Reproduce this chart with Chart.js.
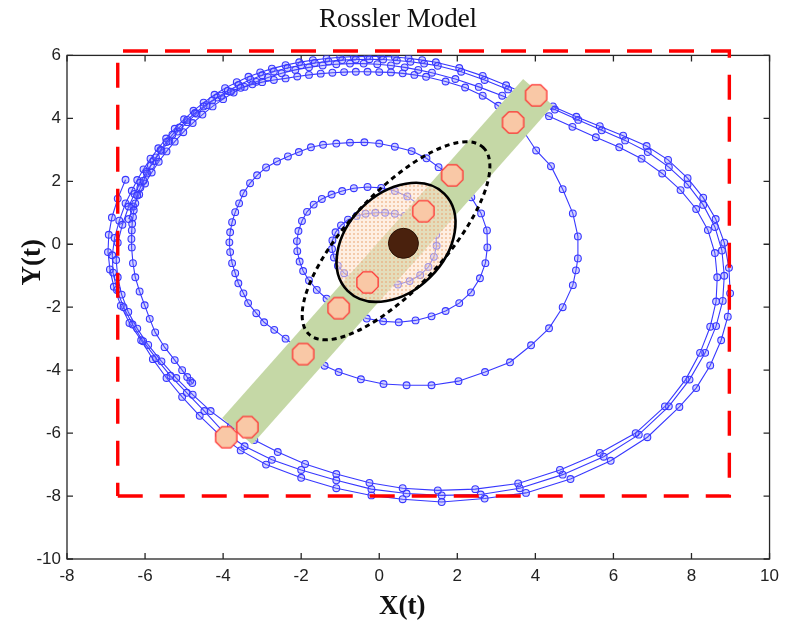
<!DOCTYPE html>
<html>
<head>
<meta charset="utf-8">
<title>Rossler Model</title>
<script src="https://cdn.jsdelivr.net/npm/chart.js@4.4.1/dist/chart.umd.min.js"></script>
<style>
  html, body { margin: 0; padding: 0; background: #fff; }
  canvas { display: block; }
</style>
</head>
<body>
<canvas id="rossler" width="786" height="623"></canvas>
<script>
// Axes
const xTickValues = [-8, -6, -4, -2, 0, 2, 4, 6, 8, 10];
const yTickValues = [-10, -8, -6, -4, -2, 0, 2, 4, 6];

// Trajectoire centrale : spirale qui s'ouvre puis se termine en bas a gauche
const innerSpiral = [
  [0.9, 0.75], [0.65, 0.9], [0.4, 0.97], [0.15, 1.0], [-0.1, 1.0], [-0.35, 0.97], [-0.58, 0.9],
  [-0.8, 0.78], [-0.98, 0.6], [-1.12, 0.38], [-1.2, 0.12], [-1.21, -0.15], [-1.16, -0.42],
  [-1.06, -0.68], [-0.9, -0.92], [-0.68, -1.12], [-0.42, -1.25], [-0.12, -1.32], [0.18, -1.33],
  [0.48, -1.28], [0.78, -1.17], [1.05, -0.98], [1.26, -0.72], [1.4, -0.4], [1.47, -0.05],
  [1.46, 0.3], [1.38, 0.65], [1.22, 0.98], [1.0, 1.27], [0.72, 1.52], [0.4, 1.69], [0.05, 1.79],
  [-0.3, 1.82], [-0.65, 1.78], [-0.95, 1.69], [-1.22, 1.58], [-1.47, 1.44], [-1.68, 1.26],
  [-1.85, 1.03], [-1.98, 0.74], [-2.07, 0.42], [-2.11, 0.1], [-2.1, -0.22], [-2.04, -0.55],
  [-1.95, -0.85], [-1.8, -1.15], [-1.6, -1.45], [-1.35, -1.73], [-1.05, -1.98], [-0.7, -2.2],
  [-0.32, -2.36], [0.1, -2.45], [0.5, -2.48], [0.93, -2.42], [1.34, -2.29], [1.7, -2.12],
  [2.05, -1.87], [2.35, -1.53], [2.58, -1.08], [2.72, -0.6], [2.77, -0.1], [2.76, 0.44],
  [2.61, 0.98], [2.36, 1.49], [2.1, 1.9], [1.85, 2.2], [1.52, 2.45], [1.21, 2.73], [0.83, 2.96],
  [0.4, 3.1], [0.0, 3.2], [-0.38, 3.24], [-0.75, 3.23], [-1.1, 3.2], [-1.44, 3.16], [-1.75, 3.08],
  [-2.06, 2.93], [-2.34, 2.79], [-2.62, 2.63], [-2.9, 2.44], [-3.13, 2.19], [-3.31, 1.94],
  [-3.48, 1.62], [-3.59, 1.3], [-3.69, 1.02], [-3.77, 0.7], [-3.82, 0.38], [-3.84, 0.06],
  [-3.82, -0.25], [-3.77, -0.6], [-3.69, -0.92], [-3.61, -1.24], [-3.48, -1.56], [-3.36, -1.87],
  [-3.15, -2.19], [-2.95, -2.48], [-2.69, -2.72], [-2.4, -3.0], [-2.05, -3.32], [-1.7, -3.62],
  [-1.4, -3.86], [-1.04, -4.06], [-0.47, -4.29], [0.11, -4.44], [0.7, -4.48], [1.34, -4.48],
  [2.03, -4.35], [2.71, -4.06], [3.35, -3.75], [3.89, -3.21], [4.35, -2.67], [4.7, -2.0],
  [4.96, -1.3], [5.04, -0.83], [5.09, -0.45], [5.09, 0.25], [4.96, 0.98], [4.7, 1.75],
  [4.4, 2.48], [4.02, 2.98], [3.68, 3.62], [3.4, 4.02], [3.05, 4.4], [2.65, 4.72], [2.2, 4.98],
  [1.7, 5.17], [1.2, 5.32], [0.9, 5.38], [0.6, 5.43], [0.3, 5.46], [0.0, 5.47], [-0.3, 5.48],
  [-0.6, 5.48], [-0.9, 5.47], [-1.2, 5.45], [-1.5, 5.42], [-1.8, 5.38], [-2.1, 5.33],
  [-2.4, 5.27], [-2.7, 5.22], [-3.0, 5.15], [-3.25, 5.08], [-3.55, 4.97], [-3.8, 4.85],
  [-4.05, 4.72], [-4.28, 4.57], [-4.5, 4.38], [-4.72, 4.17], [-4.92, 3.95], [-5.12, 3.71],
  [-5.3, 3.48], [-5.45, 3.25], [-5.6, 3.0], [-5.72, 2.76], [-5.85, 2.5], [-5.95, 2.25],
  [-6.04, 2.02], [-6.12, 1.8], [-6.2, 1.55], [-6.25, 1.3], [-6.29, 1.08], [-6.31, 0.86],
  [-6.33, 0.65], [-6.34, 0.44], [-6.35, 0.17], [-6.34, -0.1], [-6.31, -0.6], [-6.25, -1.05],
  [-6.14, -1.5], [-6.01, -1.94], [-5.88, -2.37], [-5.74, -2.8], [-5.5, -3.27], [-5.24, -3.68],
  [-5.05, -4.0], [-4.92, -4.22], [-4.84, -4.34], [-4.79, -4.41]
];

// Les trois grands tours exterieurs
const outerTurnA = [
  [-6.5, 2.05], [-6.7, 1.45], [-6.85, 0.85], [-6.93, 0.3], [-6.95, -0.25], [-6.9, -0.8],
  [-6.8, -1.35], [-6.62, -1.95], [-6.4, -2.5], [-6.1, -3.05], [-5.8, -3.65], [-5.45, -4.25],
  [-5.05, -4.85], [-4.6, -5.45], [-4.1, -6.05], [-3.55, -6.55], [-2.9, -7.0], [-2.0, -7.42],
  [-1.1, -7.75], [-0.2, -7.98], [0.6, -8.1], [1.6, -8.19], [2.7, -8.08], [3.76, -7.9],
  [4.9, -7.46], [5.93, -6.88], [6.87, -6.13], [7.69, -5.17], [8.12, -4.57], [8.48, -3.85],
  [8.76, -3.05], [8.93, -2.3], [8.99, -1.56], [8.96, -0.75], [8.84, 0.05], [8.62, 0.8],
  [8.3, 1.48], [7.9, 2.1], [7.4, 2.68], [6.85, 3.12], [6.25, 3.45], [5.65, 3.75], [5.05, 4.05],
  [4.45, 4.38], [3.85, 4.72], [3.25, 5.05], [2.65, 5.35], [2.05, 5.6], [1.45, 5.78],
  [1.1, 5.85], [0.75, 5.91], [0.4, 5.95], [0.05, 5.97], [-0.3, 5.97], [-0.65, 5.96],
  [-1.0, 5.94], [-1.35, 5.9], [-1.7, 5.85], [-2.05, 5.78], [-2.4, 5.69], [-2.75, 5.58],
  [-3.05, 5.46], [-3.35, 5.32], [-3.65, 5.15], [-3.95, 4.96], [-4.22, 4.75], [-4.5, 4.5],
  [-4.76, 4.24], [-5.0, 3.97], [-5.24, 3.67], [-5.46, 3.36], [-5.66, 3.05], [-5.86, 2.72],
  [-6.04, 2.38], [-6.2, 2.04], [-6.34, 1.7]
];
const outerTurnB = [
  [-6.5, 1.3], [-6.66, 0.75], [-6.78, 0.2], [-6.84, -0.35], [-6.82, -0.9], [-6.72, -1.45],
  [-6.55, -2.0], [-6.32, -2.55], [-6.05, -3.08], [-5.72, -3.62], [-5.35, -4.18], [-4.93, -4.72],
  [-4.48, -5.3], [-4.0, -5.95], [-3.45, -6.42], [-2.75, -6.85], [-2.0, -7.17], [-1.1, -7.5],
  [-0.2, -7.78], [0.7, -7.92], [1.6, -7.98], [2.6, -7.95], [3.6, -7.75], [4.7, -7.32],
  [5.75, -6.75], [6.65, -6.05], [7.42, -5.15], [7.95, -4.3], [8.35, -3.45], [8.63, -2.6],
  [8.8, -1.8], [8.84, -1.0], [8.78, -0.2], [8.6, 0.55], [8.3, 1.25], [7.9, 1.9], [7.42, 2.45],
  [6.88, 2.93], [6.3, 3.3], [5.7, 3.62], [5.1, 3.95], [4.5, 4.28], [3.9, 4.6], [3.3, 4.92],
  [2.7, 5.22], [2.1, 5.48], [1.5, 5.67], [1.15, 5.74], [0.8, 5.8], [0.45, 5.84], [0.1, 5.87],
  [-0.25, 5.88], [-0.6, 5.87], [-0.95, 5.85], [-1.3, 5.81], [-1.65, 5.76], [-2.0, 5.69],
  [-2.35, 5.6], [-2.7, 5.49], [-3.0, 5.37], [-3.3, 5.23], [-3.6, 5.06], [-3.88, 4.87],
  [-4.15, 4.66], [-4.42, 4.42], [-4.68, 4.15], [-4.92, 3.88], [-5.16, 3.58], [-5.38, 3.28],
  [-5.58, 2.97], [-5.78, 2.64], [-5.96, 2.3], [-6.12, 1.96], [-6.27, 1.6], [-6.42, 1.2]
];
const outerTurnC = [
  [-6.58, 0.62], [-6.7, 0.05], [-6.74, -0.5], [-6.7, -1.05], [-6.6, -1.6], [-6.43, -2.15],
  [-6.2, -2.68], [-5.92, -3.2], [-5.58, -3.72], [-5.2, -4.25], [-4.78, -4.78], [-4.32, -5.3],
  [-3.8, -5.78], [-3.2, -6.22], [-2.6, -6.6], [-1.9, -6.98], [-1.1, -7.3], [-0.25, -7.58],
  [0.6, -7.75], [1.5, -7.82], [2.46, -7.78], [3.56, -7.6], [4.63, -7.17], [5.65, -6.63],
  [6.57, -6.0], [7.32, -5.15], [7.85, -4.3], [8.22, -3.45], [8.48, -2.62], [8.63, -1.82],
  [8.66, -1.05], [8.6, -0.28], [8.42, 0.45], [8.12, 1.12], [7.72, 1.72], [7.25, 2.25],
  [6.72, 2.72], [6.15, 3.08], [5.55, 3.4], [4.95, 3.73], [4.35, 4.07], [3.75, 4.4], [3.15, 4.72],
  [2.55, 5.0], [1.95, 5.25], [1.35, 5.45], [1.0, 5.54], [0.65, 5.62], [0.3, 5.68], [-0.05, 5.72],
  [-0.4, 5.74], [-0.75, 5.74], [-1.1, 5.72], [-1.45, 5.68], [-1.8, 5.62], [-2.15, 5.54],
  [-2.5, 5.43], [-2.85, 5.3], [-3.15, 5.16], [-3.45, 5.0], [-3.73, 4.82], [-4.0, 4.61],
  [-4.27, 4.38], [-4.53, 4.12], [-4.78, 3.85], [-5.02, 3.56], [-5.24, 3.26], [-5.45, 2.95],
  [-5.65, 2.62], [-5.83, 2.28], [-6.0, 1.93], [-6.15, 1.58], [-6.3, 1.2], [-6.42, 0.8]
];

// Bande verte, octogones, centre
const bandEnds = [[-3.64, -5.94], [4.07, 4.83]];
const octagonPoints = [
  [4.02, 4.73], [3.43, 3.87], [1.87, 2.19], [1.13, 1.05], [-0.3, -1.21],
  [-1.04, -2.03], [-1.95, -3.49], [-3.38, -5.81], [-3.92, -6.13]
];
const centerPoint = [[0.62, 0.03]];

// Cadre rouge en tirets
const boxCorners = [[-6.7, -8], [8.97, -8], [8.97, 6.14], [-6.7, 6.14], [-6.7, -8]];

// Ellipses (centre + demi-axes, en unites des donnees)
const solidEllipse = { cx: 0.43, cy: 0.06, ux: 1.24, uy: 1.54, vx: -0.88, vy: 1.10 };
const dottedEllipse = { cx: 0.43, cy: 0.11, ux: 2.23, uy: 2.97, vx: -0.90, vy: 1.04 };

const toXY = arr => arr.map(p => ({ x: p[0], y: p[1] }));

// Octogone pour les points orange
function makeOctagon(r) {
  const c = document.createElement('canvas');
  const s = Math.ceil(2 * r + 4);
  c.width = s;
  c.height = s;
  const g = c.getContext('2d');
  g.beginPath();
  for (let i = 0; i < 8; i++) {
    const a = Math.PI / 8 + i * Math.PI / 4;
    const px = s / 2 + r * Math.cos(a);
    const py = s / 2 + r * Math.sin(a);
    if (i === 0) g.moveTo(px, py); else g.lineTo(px, py);
  }
  g.closePath();
  g.fillStyle = '#f9c8a6';
  g.fill();
  g.strokeStyle = '#ff3030';
  g.lineWidth = 1.3;
  g.stroke();
  return c;
}

// Motif pointille de l'ellipse
function makeDots() {
  const c = document.createElement('canvas');
  c.width = 4;
  c.height = 4;
  const g = c.getContext('2d');
  g.fillStyle = 'rgba(253,225,204,0.55)';
  g.fillRect(0, 0, 4, 4);
  g.fillStyle = 'rgba(236,165,115,0.5)';
  g.fillRect(1, 1, 2, 2);
  return c;
}

function drawEllipse(chart, e, fill, dash, width) {
  const { ctx, scales: { x, y } } = chart;
  const cx = x.getPixelForValue(e.cx), cy = y.getPixelForValue(e.cy);
  const ux = x.getPixelForValue(e.cx + e.ux) - cx, uy = y.getPixelForValue(e.cy + e.uy) - cy;
  const vx = x.getPixelForValue(e.cx + e.vx) - cx, vy = y.getPixelForValue(e.cy + e.vy) - cy;
  ctx.save();
  ctx.beginPath();
  ctx.ellipse(cx, cy, Math.hypot(ux, uy), Math.hypot(vx, vy), Math.atan2(uy, ux), 0, 2 * Math.PI);
  if (fill) {
    ctx.fillStyle = fill;
    ctx.fill();
  }
  ctx.setLineDash(dash);
  ctx.lineWidth = width;
  ctx.strokeStyle = '#000';
  ctx.stroke();
  ctx.restore();
}

// Ellipses dessinees juste apres la bande verte
const ellipsePlugin = {
  id: 'ellipses',
  afterDatasetDraw(chart, args) {
    if (args.meta.label !== 'band') return;
    const pattern = chart.ctx.createPattern(makeDots(), 'repeat');
    drawEllipse(chart, solidEllipse, pattern, [], 2.6);
    drawEllipse(chart, dottedEllipse, null, [5, 4], 3);
  }
};

// Cadre et graduations vers l'interieur, sur les quatre cotes
const framePlugin = {
  id: 'frame',
  beforeDatasetsDraw(chart) {
    const { ctx, chartArea: a, scales: { x, y } } = chart;
    ctx.save();
    ctx.strokeStyle = '#262626';
    ctx.lineWidth = 1.3;
    ctx.strokeRect(a.left, a.top, a.right - a.left, a.bottom - a.top);
    ctx.beginPath();
    xTickValues.forEach(v => {
      const px = x.getPixelForValue(v);
      ctx.moveTo(px, a.bottom); ctx.lineTo(px, a.bottom - 6);
      ctx.moveTo(px, a.top); ctx.lineTo(px, a.top + 6);
    });
    yTickValues.forEach(v => {
      const py = y.getPixelForValue(v);
      ctx.moveTo(a.left, py); ctx.lineTo(a.left + 6, py);
      ctx.moveTo(a.right, py); ctx.lineTo(a.right - 6, py);
    });
    ctx.stroke();
    ctx.restore();
  }
};

// Titres des axes
const axisTitlePlugin = {
  id: 'axisTitles',
  afterDraw(chart) {
    const { ctx, chartArea: a } = chart;
    ctx.save();
    ctx.fillStyle = '#111';
    ctx.font = 'bold 27px "Liberation Serif"';
    ctx.textAlign = 'center';
    ctx.textBaseline = 'alphabetic';
    ctx.fillText('X(t)', (a.left + a.right) / 2 - 16, a.bottom + 55);
    ctx.translate(a.left - 34, (a.top + a.bottom) / 2 - 45);
    ctx.rotate(-Math.PI / 2);
    ctx.textBaseline = 'middle';
    ctx.fillText('Y(t)', 0, 0);
    ctx.restore();
  }
};

const blueLine = '#3838ff';
const trajStyle = {
  showLine: true,
  tension: 0,
  borderColor: blueLine,
  borderWidth: 1.1,
  pointRadius: 3.4,
  pointBorderWidth: 1.1,
  pointBorderColor: blueLine,
  pointBackgroundColor: 'rgba(110,110,255,0.3)'
};

const tickFont = { family: '"Liberation Sans", Arial, sans-serif', size: 17 };

new Chart(document.getElementById('rossler'), {
  type: 'scatter',
  data: {
    datasets: [
      {
        label: 'box', data: toXY(boxCorners), showLine: true, tension: 0,
        borderColor: '#ff0000', borderWidth: 3.4, borderDash: [25, 17],
        pointRadius: 0, clip: false, order: 0
      },
      {
        label: 'octagons', data: toXY(octagonPoints), showLine: false,
        pointStyle: makeOctagon(11.5), order: 1
      },
      {
        label: 'center', data: toXY(centerPoint), showLine: false,
        pointRadius: 15, pointBackgroundColor: '#4a210d', pointBorderColor: '#2a1206',
        pointBorderWidth: 1, order: 2
      },
      {
        label: 'band', data: toXY(bandEnds), showLine: true,
        borderColor: '#c5d8a6', borderWidth: 40, borderCapStyle: 'butt',
        pointRadius: 0, order: 3
      },
      Object.assign({ label: 'spiral', data: toXY(innerSpiral), order: 4 }, trajStyle),
      Object.assign({ label: 'outer', data: toXY(outerTurnA.concat(outerTurnB, outerTurnC)), order: 5 }, trajStyle)
    ]
  },
  options: {
    responsive: false,
    animation: false,
    layout: { padding: { left: 24, right: 14, top: 0, bottom: 0 } },
    plugins: {
      legend: { display: false },
      tooltip: { enabled: false },
      title: {
        display: true,
        text: 'Rossler Model',
        color: '#111',
        font: { family: '"Liberation Serif", "Times New Roman", serif', size: 27, weight: 'normal' },
        padding: { top: 4, bottom: 19 }
      }
    },
    scales: {
      x: {
        type: 'linear', min: -8, max: 10,
        afterBuildTicks: scale => { scale.ticks = xTickValues.map(v => ({ value: v })); },
        afterFit: scale => { scale.height = 64; },
        grid: { display: false, drawTicks: false },
        border: { display: false },
        ticks: { color: '#222', font: tickFont, padding: 7 }
      },
      y: {
        type: 'linear', min: -10, max: 6,
        afterBuildTicks: scale => { scale.ticks = yTickValues.map(v => ({ value: v })); },
        afterFit: scale => { scale.width = 43; },
        grid: { display: false, drawTicks: false },
        border: { display: false },
        ticks: { color: '#222', font: tickFont, padding: 6 }
      }
    }
  },
  plugins: [framePlugin, ellipsePlugin, axisTitlePlugin]
});
</script>
</body>
</html>
